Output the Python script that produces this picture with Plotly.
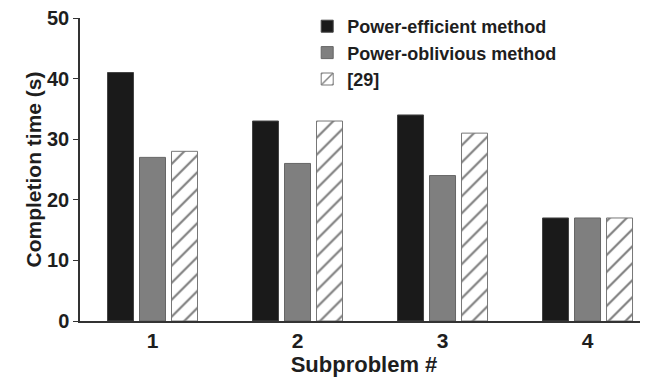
import plotly.graph_objects as go

categories = ["1", "2", "3", "4"]
power_efficient = [41, 33, 34, 17]
power_oblivious = [27, 26, 24, 17]
ref29 = [28, 33, 31, 17]
y_ticks = [0, 10, 20, 30, 40, 50]

font_family = "Liberation Sans, Arial, sans-serif"
ink = "#1e1e1e"

fig = go.Figure()
fig.add_trace(go.Bar(
    x=categories, y=power_efficient, name="<b>Power-efficient method</b>",
    marker=dict(color="#1a1a1a", line=dict(color="#444444", width=1)),
))
fig.add_trace(go.Bar(
    x=categories, y=power_oblivious, name="<b>Power-oblivious method</b>",
    marker=dict(color="#7f7f7f", line=dict(color="#666666", width=1)),
))
fig.add_trace(go.Bar(
    x=categories, y=ref29, name="<b>[29]</b>",
    marker=dict(color="white", line=dict(color="#777777", width=1),
                pattern=dict(shape="/", fgcolor="#000000", bgcolor="white",
                             size=12, solidity=0.18)),
))

# page body has an 8px margin: figure is shifted by (8, 8)
fig.update_layout(
    width=640, height=373,
    margin=dict(l=72, r=0, t=10, b=60, autoexpand=False),
    paper_bgcolor="white", plot_bgcolor="white",
    barmode="group", bargap=0.338, bargroupgap=0.1875,
    font=dict(family=font_family, size=16, color=ink),
    showlegend=True,
    legend=dict(x=0.40, y=1.0, xanchor="left", yanchor="top",
                xref="paper", yref="container",
                bgcolor="rgba(0,0,0,0)", tracegroupgap=0,
                font=dict(family=font_family, size=18, color=ink),
                itemwidth=30),
    xaxis=dict(
        type="category", range=[-0.5, 3.417],
        tickvals=categories, ticktext=[f"<b>{c}</b>" for c in categories],
        showline=True, linecolor="#333333", linewidth=1.5,
        ticks="", showgrid=False, zeroline=False,
        tickfont=dict(family=font_family, size=21, color=ink),
        title=dict(text="<b>Subproblem #</b>", standoff=4,
                   font=dict(family=font_family, size=22, color=ink)),
    ),
    yaxis=dict(
        range=[0, 50], tickvals=y_ticks, ticktext=[f"<b>{v}</b>" for v in y_ticks],
        showline=True, linecolor="#333333", linewidth=1.5,
        ticks="outside", ticklen=5, tickcolor="#333333",
        ticklabeloverflow="allow",
        showgrid=False, zeroline=False,
        tickfont=dict(family=font_family, size=20, color=ink),
        title=dict(text="<b>Completion time (s)</b>", standoff=0,
                   font=dict(family=font_family, size=21, color=ink)),
    ),
)

fig.write_html("out.html")
